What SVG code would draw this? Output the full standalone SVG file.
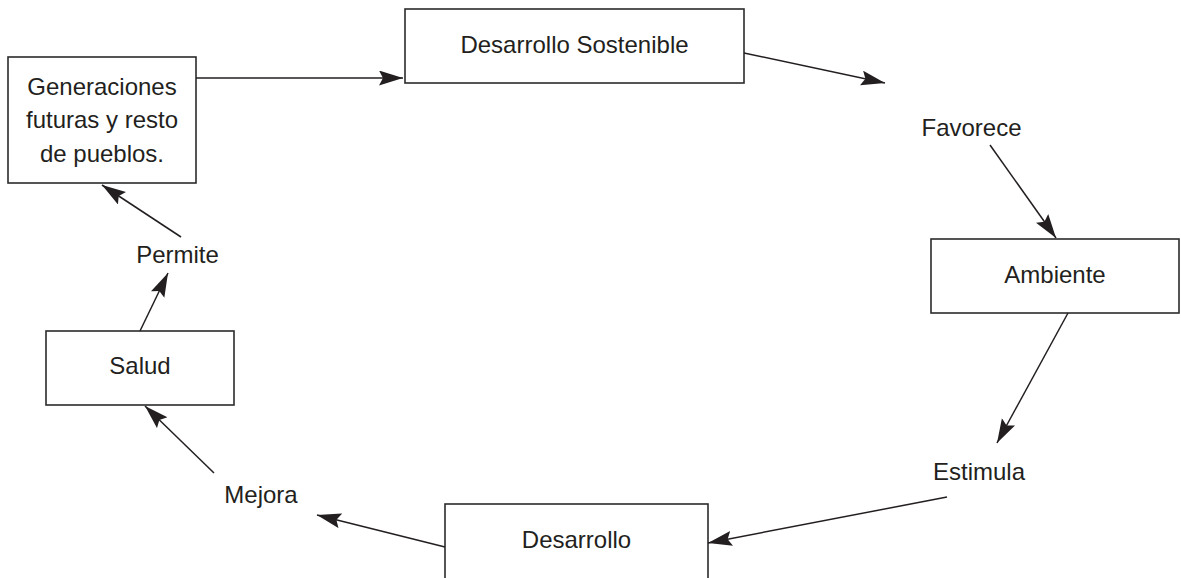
<svg xmlns="http://www.w3.org/2000/svg" width="1181" height="578" viewBox="0 0 1181 578">
  <style>
    .box { fill: #ffffff; stroke: #2b2b2b; stroke-width: 1.6; }
    .label { font-family: "Liberation Sans", Arial, sans-serif; font-size: 24px; fill: #231f20; text-anchor: middle; }
    .edge { fill: none; stroke: #231f20; stroke-width: 1.5; marker-end: url(#arrow); }
  </style>
  <defs>
    <marker id="arrow" markerUnits="userSpaceOnUse" markerWidth="26" markerHeight="16" refX="24" refY="7.5" orient="auto">
      <path d="M0,0 L24,7.5 L0,15 L4,7.5 z" fill="#231f20"/>
    </marker>
  </defs>
  <rect width="1181" height="578" fill="#ffffff"/>

  <!-- nodes -->
  <g id="generaciones">
    <rect class="box" x="8" y="57" width="188" height="126"/>
    <text class="label" x="102" y="95">Generaciones</text>
    <text class="label" x="102" y="128">futuras y resto</text>
    <text class="label" x="102" y="162">de pueblos.</text>
  </g>
  <g id="desarrollo-sostenible">
    <rect class="box" x="405" y="9" width="339" height="74"/>
    <text class="label" x="574.5" y="53">Desarrollo Sostenible</text>
  </g>
  <g id="favorece">
    <text class="label" x="971.5" y="136">Favorece</text>
  </g>
  <g id="ambiente">
    <rect class="box" x="931" y="239" width="248" height="74"/>
    <text class="label" x="1055" y="283">Ambiente</text>
  </g>
  <g id="estimula">
    <text class="label" x="979" y="480">Estimula</text>
  </g>
  <g id="desarrollo">
    <rect class="box" x="445" y="504" width="263" height="80"/>
    <text class="label" x="576.5" y="548">Desarrollo</text>
  </g>
  <g id="mejora">
    <text class="label" x="261" y="503">Mejora</text>
  </g>
  <g id="salud">
    <rect class="box" x="46" y="331" width="188" height="74"/>
    <text class="label" x="140" y="374">Salud</text>
  </g>
  <g id="permite">
    <text class="label" x="177.5" y="263">Permite</text>
  </g>

  <!-- connectors -->
  <g id="connectors">
    <line class="edge" x1="196" y1="78" x2="403" y2="78"/>
    <line class="edge" x1="744" y1="53" x2="885" y2="83"/>
    <line class="edge" x1="990" y1="145" x2="1056" y2="238"/>
    <line class="edge" x1="1068" y1="313" x2="997" y2="443"/>
    <line class="edge" x1="947" y1="497" x2="708" y2="543"/>
    <line class="edge" x1="445" y1="547" x2="317" y2="515"/>
    <line class="edge" x1="214" y1="473" x2="145" y2="406"/>
    <line class="edge" x1="140" y1="331" x2="168" y2="273"/>
    <line class="edge" x1="181" y1="237" x2="102" y2="185"/>
  </g>
</svg>
